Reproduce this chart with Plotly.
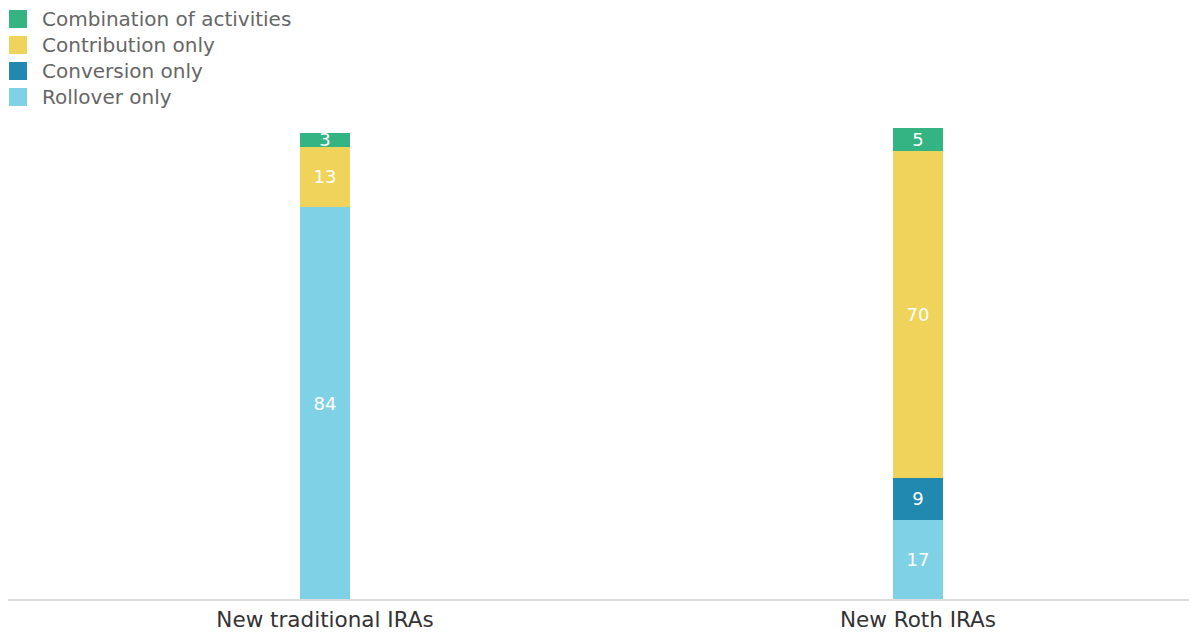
import plotly.graph_objects as go

categories = ["New traditional IRAs", "New Roth IRAs"]
series_names = ["Rollover only", "Conversion only", "Contribution only", "Combination of activities"]
rollover = [84, 17]
conversion = [0, 9]
contribution = [13, 70]
combination = [3, 5]
colors = ["#7fd2e6", "#2189b0", "#efd35a", "#34b383"]

values = [rollover, conversion, contribution, combination]

FONT = "DejaVu Sans"
# page offset (body margin) compensation
OFF = 8
PL, PT, PW, PH = 0, 78, 1197, 513

def px(x):
    return (x - OFF - PL) / PW

def py(y):
    return (PT + PH - (y - OFF)) / PH

fig = go.Figure()
for name, vals, col in zip(series_names, values, colors):
    fig.add_trace(go.Bar(
        x=categories, y=vals, name=name, marker=dict(color=col, line=dict(width=0)),
        width=0.0843,
        text=[str(v) if v > 0 else "" for v in vals],
        textposition="inside", insidetextanchor="middle", textangle=0,
        constraintext="none", cliponaxis=False,
        textfont=dict(color="white", size=18, family=FONT),
        showlegend=False, hoverinfo="skip",
    ))

# Manual legend (top-down order reversed from stacking)
legend_order = list(reversed(range(len(series_names))))
for i, idx in enumerate(legend_order):
    yc = 19 + 26 * i
    fig.add_shape(type="rect", xref="paper", yref="paper",
                  x0=px(9), x1=px(27),
                  y0=py(yc - 9), y1=py(yc + 9),
                  fillcolor=colors[idx], line=dict(width=0))
    fig.add_annotation(xref="paper", yref="paper",
                       x=px(40), y=py(yc),
                       text=series_names[idx], showarrow=False,
                       xanchor="left", yanchor="middle",
                       font=dict(size=20, color="#666666", family=FONT))

fig.update_layout(
    barmode="stack",
    width=1197, height=632,
    margin=dict(l=PL, r=1197 - PL - PW, t=PT, b=632 - PT - PH),
    paper_bgcolor="white", plot_bgcolor="white",
    xaxis=dict(range=[-0.5346, 1.484], showgrid=False, showline=True,
               linecolor="#dddddd", linewidth=2, ticks="",
               tickfont=dict(size=21.5, color="#333333", family=FONT),
               automargin=False),
    yaxis=dict(range=[0, 110], visible=False, automargin=False),
    font=dict(family=FONT),
)

fig.write_html("out.html")
